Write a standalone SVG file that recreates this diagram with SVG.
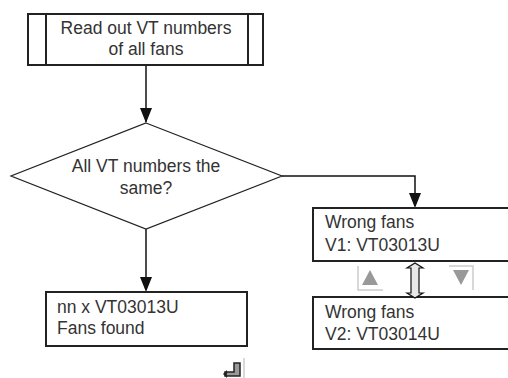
<svg xmlns="http://www.w3.org/2000/svg" width="508" height="378" viewBox="0 0 508 378">
<style>
.box{fill:#fff;stroke:#222;stroke-width:2}
.t{font-family:"Liberation Sans",Arial,sans-serif;font-size:17.5px;fill:#333}
.c{stroke:#111;stroke-width:1.5;fill:none}
</style>
<rect width="508" height="378" fill="#fff"/>
<g id="connectors">
<path class="c" d="M146,65 V122"/>
<path d="M140,108 L152,108 L146,123 Z" fill="#111"/>
<path class="c" d="M282,176 H415 V206"/>
<path d="M409,193 L421,193 L415,208 Z" fill="#111"/>
<path class="c" d="M146,229 V290"/>
<path d="M140,277 L152,277 L146,292 Z" fill="#111"/>
</g>
<g id="read">
<rect class="box" x="28" y="14" width="235" height="51"/>
<line x1="46" y1="14" x2="46" y2="65" stroke="#222" stroke-width="2"/>
<line x1="248" y1="14" x2="248" y2="65" stroke="#222" stroke-width="2"/>
<text class="t" x="146" y="34" text-anchor="middle">Read out VT numbers</text>
<text class="t" x="146" y="55" text-anchor="middle">of all fans</text>
</g>
<g id="decision">
<polygon points="146,123 282,176 146,229 11,176" fill="#fff" stroke="#222" stroke-width="1.2"/>
<text class="t" x="146" y="172" text-anchor="middle">All VT numbers the</text>
<text class="t" x="146" y="194" text-anchor="middle">same?</text>
</g>
<g id="found">
<rect class="box" x="46" y="292" width="201" height="54"/>
<text class="t" x="57" y="313">nn x VT03013U</text>
<text class="t" x="57" y="334">Fans found</text>
</g>
<g id="wrong1">
<rect class="box" x="313" y="208" width="200" height="53"/>
<text class="t" x="325" y="228">Wrong fans</text>
<text class="t" x="325" y="251">V1: VT03013U</text>
</g>
<g id="wrong2">
<rect class="box" x="313" y="297" width="200" height="52"/>
<text class="t" x="325" y="318">Wrong fans</text>
<text class="t" x="325" y="340">V2: VT03014U</text>
</g>
<g id="nav">
<path d="M358,266 V290 H383" fill="none" stroke="#ccc" stroke-width="1.5"/>
<polygon points="370,270 378,285 362,285" fill="#999"/>
<path d="M449,266 H473 V290" fill="none" stroke="#ccc" stroke-width="1.5"/>
<polygon points="453,270 469,270 461,285" fill="#999"/>
<path d="M415,263 L423,268 L419,268 L419,293 L423,293 L415,298 L407,293 L411,293 L411,268 L407,268 Z" fill="#e8e8e8" stroke="#111" stroke-width="1.2"/>
</g>
<g id="enter">
<path d="M234,363 H240 V376 H225 V372 H234 Z" fill="#999" stroke="#222" stroke-width="1.5"/>
<polygon points="223,374 227,370 227,378" fill="#222"/>
<line x1="244" y1="358" x2="244" y2="378" stroke="#ccc" stroke-width="1.5"/>
</g>
</svg>
